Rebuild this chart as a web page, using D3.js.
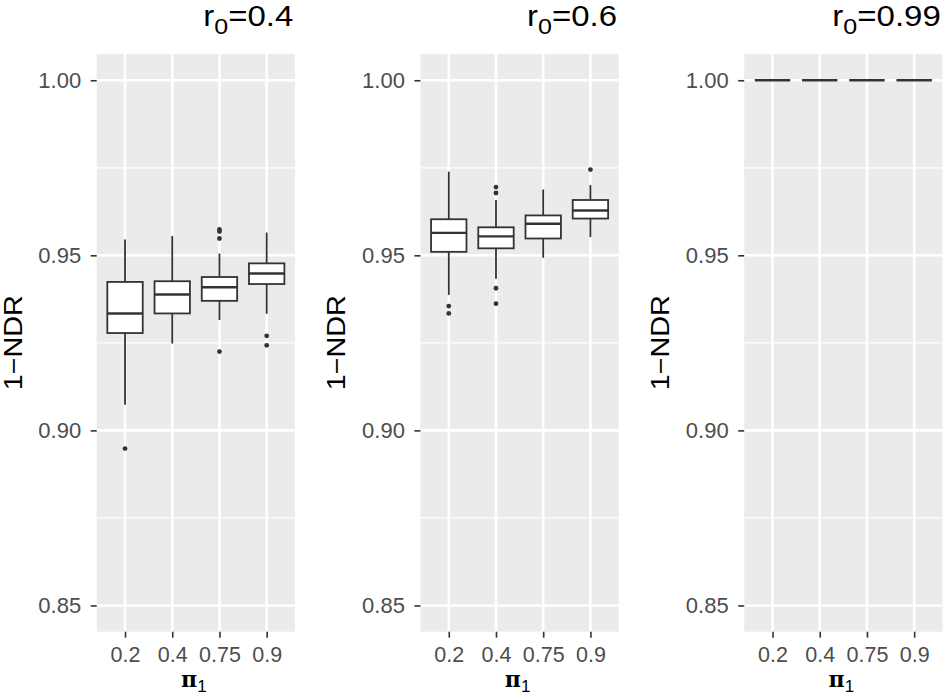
<!DOCTYPE html>
<html>
<head>
<meta charset="utf-8">
<script src="https://cdn.jsdelivr.net/npm/d3@7"></script>
<style>
  body { margin: 0; background: #fff; }
  svg { display: block; }
</style>
</head>
<body>
<svg id="chart" width="943" height="696"></svg>
<script>
// ---------- DATA ----------
const panelTitles = ["0.4", "0.6", "0.99"];          // r0 values
const categories = ["0.2", "0.4", "0.75", "0.9"];     // pi_1
const yTicks = [0.85, 0.90, 0.95, 1.00];
const yMinorTicks = [0.875, 0.925, 0.975];

// [lower whisker, Q1, median, Q3, upper whisker] per category
const box_r04 = [
  [0.9073, 0.9278, 0.9334, 0.9424, 0.9545],
  [0.9248, 0.9334, 0.9388, 0.9426, 0.9555],
  [0.9315, 0.9370, 0.9409, 0.9438, 0.9505],
  [0.9333, 0.9418, 0.9448, 0.9477, 0.9565]
];
const out_r04 = [
  [0.8948],
  [],
  [0.9574, 0.9568, 0.9548, 0.9225],
  [0.9270, 0.9243]
];
const box_r06 = [
  [0.9387, 0.9510, 0.9564, 0.9603, 0.9739],
  [0.9433, 0.9520, 0.9554, 0.9580, 0.9658],
  [0.9493, 0.9548, 0.9590, 0.9614, 0.9688],
  [0.9552, 0.9605, 0.9628, 0.9658, 0.9701]
];
const out_r06 = [
  [0.9355, 0.9334],
  [0.9695, 0.9678, 0.9406, 0.9362],
  [],
  [0.9745]
];
const box_r099 = [
  [1.0, 1.0, 1.0, 1.0, 1.0],
  [1.0, 1.0, 1.0, 1.0, 1.0],
  [1.0, 1.0, 1.0, 1.0, 1.0],
  [1.0, 1.0, 1.0, 1.0, 1.0]
];
const out_r099 = [[], [], [], []];

const boxes = [box_r04, box_r06, box_r099];
const outliers = [out_r04, out_r06, out_r099];

// ---------- LAYOUT ----------
const svg = d3.select("#chart");
const panelLeft0 = 96.7, panelStride = 323.75, panelW = 198.3;
const panelTop = 54, panelBottom = 631.7;
const titleWidths = [90, 90, 108.5];

const y = d3.scaleLinear().domain([0.8425, 1.0075]).range([panelBottom, panelTop]);

const FONT = "'Liberation Sans', Arial, Helvetica, sans-serif";
const dark = "#333333";

boxes.forEach((panelBoxes, pi) => {
  const left = panelLeft0 + pi * panelStride;
  const x = d3.scalePoint().domain(categories).range([left, left + panelW]).padding(0.6);
  const step = x.step();
  const bw = step * 0.75;
  const g = svg.append("g");

  // panel background
  g.append("rect").attr("x", left).attr("y", panelTop)
    .attr("width", panelW).attr("height", panelBottom - panelTop)
    .attr("fill", "#EBEBEB");

  // minor grid
  g.selectAll(".ymin").data(yMinorTicks).join("line")
    .attr("x1", left).attr("x2", left + panelW)
    .attr("y1", d => y(d)).attr("y2", d => y(d))
    .attr("stroke", "#fff").attr("stroke-width", 1.3);
  // major grid
  g.selectAll(".ymaj").data(yTicks).join("line")
    .attr("x1", left).attr("x2", left + panelW)
    .attr("y1", d => y(d)).attr("y2", d => y(d))
    .attr("stroke", "#fff").attr("stroke-width", 2.6);
  g.selectAll(".xmaj").data(categories).join("line")
    .attr("x1", d => x(d)).attr("x2", d => x(d))
    .attr("y1", panelTop).attr("y2", panelBottom)
    .attr("stroke", "#fff").attr("stroke-width", 2.6);

  // y axis
  const yAxis = svg.append("g").attr("transform", `translate(${left},0)`)
    .call(d3.axisLeft(y).tickValues(yTicks).tickFormat(d3.format(".2f")).tickSize(6).tickPadding(9.5));
  yAxis.select(".domain").remove();
  yAxis.selectAll(".tick line").attr("stroke", dark).attr("stroke-width", 1.6);
  yAxis.selectAll(".tick text").attr("fill", "#4D4D4D")
    .style("font-family", FONT).style("font-size", "22px");

  // x axis
  const xAxis = svg.append("g").attr("transform", `translate(0,${panelBottom})`)
    .call(d3.axisBottom(x).tickSize(6).tickPadding(9));
  xAxis.select(".domain").remove();
  xAxis.selectAll(".tick line").attr("stroke", dark).attr("stroke-width", 1.6);
  xAxis.selectAll(".tick text").attr("fill", "#4D4D4D")
    .style("font-family", FONT).style("font-size", "21.5px");

  // boxplots
  panelBoxes.forEach((b, ci) => {
    const cx = x(categories[ci]);
    const [lo, q1, med, q3, hi] = b;
    const bg = g.append("g");
    bg.append("line").attr("x1", cx).attr("x2", cx).attr("y1", y(q3)).attr("y2", y(hi))
      .attr("stroke", dark).attr("stroke-width", 1.8);
    bg.append("line").attr("x1", cx).attr("x2", cx).attr("y1", y(q1)).attr("y2", y(lo))
      .attr("stroke", dark).attr("stroke-width", 1.8);
    bg.append("rect").attr("x", cx - bw / 2).attr("y", y(q3))
      .attr("width", bw).attr("height", Math.max(0, y(q1) - y(q3)))
      .attr("fill", "#fff").attr("stroke", dark).attr("stroke-width", 1.8);
    bg.append("line").attr("x1", cx - bw / 2).attr("x2", cx + bw / 2)
      .attr("y1", y(med)).attr("y2", y(med))
      .attr("stroke", dark).attr("stroke-width", 2.4);
    bg.selectAll("circle").data(outliers[pi][ci]).join("circle")
      .attr("cx", cx).attr("cy", d => y(d)).attr("r", 2.4).attr("fill", dark);
  });

  // facet title  r0=...
  const right = left + panelW - 1.7;
  const tw = titleWidths[pi];
  const t = svg.append("text").attr("x", right - tw).attr("y", 25.5)
    .attr("textLength", tw).attr("lengthAdjust", "spacingAndGlyphs")
    .style("font-family", FONT).style("font-size", "29px").attr("fill", "#000");
  t.append("tspan").text("r");
  t.append("tspan").attr("dy", 8).style("font-size", "22px").text("0");
  t.append("tspan").attr("dy", -8).text("=" + panelTitles[pi]);

  // y title
  svg.append("text")
    .attr("transform", `translate(${left - 75},${(panelTop + panelBottom) / 2}) rotate(-90)`)
    .attr("text-anchor", "middle")
    .attr("textLength", 95).attr("lengthAdjust", "spacingAndGlyphs")
    .style("font-family", FONT).style("font-size", "25px").attr("fill", "#000")
    .text("1\u2212NDR");

  // x title  pi_1
  const xt = svg.append("text")
    .attr("x", left + panelW / 2 - 2).attr("y", 686.5)
    .attr("text-anchor", "middle")
    .style("font-family", "'DejaVu Serif', 'Liberation Serif', serif")
    .style("font-size", "22px").attr("fill", "#000");
  xt.append("tspan").style("font-weight", "bold").text("\u03C0");
  xt.append("tspan").attr("dy", 5.5).style("font-family", FONT).style("font-size", "17px").text("1");
});
</script>
</body>
</html>
